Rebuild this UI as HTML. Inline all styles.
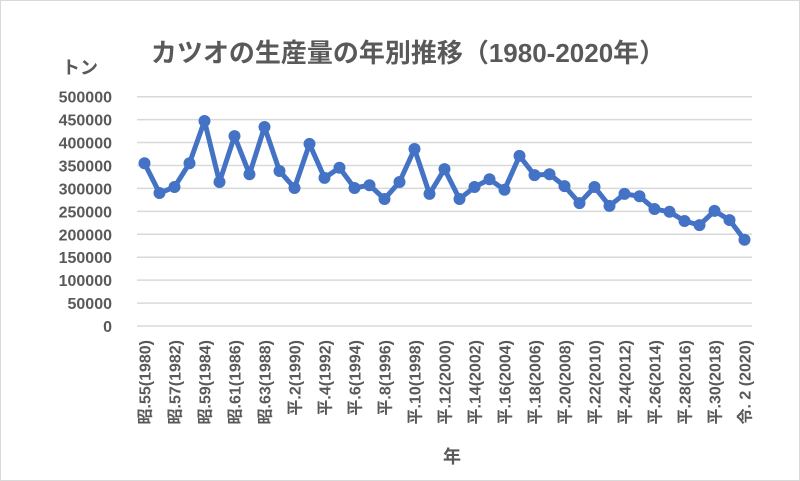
<!DOCTYPE html>
<html><head><meta charset="utf-8"><style>
body{margin:0;background:#fff}
svg{display:block;font-family:"Liberation Sans","Noto Sans CJK JP",sans-serif}
</style></head><body>
<svg width="800" height="481" viewBox="0 0 800 481">
<rect x="0.5" y="0.5" width="799" height="480" fill="#fff" stroke="#d9d9d9"/>
<text x="408" y="62" text-anchor="middle" font-size="26" font-weight="bold" fill="#595959">カツオの生産量の年別推移（1980-2020年）</text>
<text x="62" y="74" font-size="18" font-weight="bold" fill="#595959">トン</text>
<text x="452" y="463" text-anchor="middle" font-size="18" font-weight="bold" fill="#595959">年</text>
<g id="grid"></g><g id="ylab"></g><g id="xlab"></g><g id="series"></g>
</svg>
<script>
const years=[1980,1981,1982,1983,1984,1985,1986,1987,1988,1989,1990,1991,1992,1993,1994,1995,1996,1997,1998,1999,2000,2001,2002,2003,2004,2005,2006,2007,2008,2009,2010,2011,2012,2013,2014,2015,2016,2017,2018,2019,2020];
const values=[355000,290000,303000,355000,447000,314000,414000,331000,434000,338000,301000,397000,323000,345000,301000,307000,277000,314000,386000,288000,342000,277000,303000,320000,297000,371000,329000,331000,305000,268000,303000,262000,288000,283000,255000,249000,229000,220000,251000,231000,188000];
const xLabels=["昭.55(1980)","昭.57(1982)","昭.59(1984)","昭.61(1986)","昭.63(1988)","平.2(1990)","平.4(1992)","平.6(1994)","平.8(1996)","平.10(1998)","平.12(2000)","平.14(2002)","平.16(2004)","平.18(2006)","平.20(2008)","平.22(2010)","平.24(2012)","平.26(2014)","平.28(2016)","平.30(2018)","令. 2 (2020)"];
const yTicks=[0,50000,100000,150000,200000,250000,300000,350000,400000,450000,500000];
const NS="http://www.w3.org/2000/svg";
const L=137,R=752,T=96.7,B=326,YMAX=500000;
const step=(R-L)/years.length;
function x(i){return L+step*(i+0.5);}
function y(v){return B-(v/YMAX)*(B-T);}
function mk(t,a,p){const e=document.createElementNS(NS,t);for(const k in a)e.setAttribute(k,a[k]);p.appendChild(e);return e;}
const g=document.getElementById('grid'),yl=document.getElementById('ylab'),xl=document.getElementById('xlab'),s=document.getElementById('series');
yTicks.forEach(v=>{
 const ln=mk('line',{x1:L,x2:R,y1:y(v),y2:y(v),stroke:'#d9d9d9','stroke-width':1.5},g);
 
 
 const t=mk('text',{x:112,y:y(v)+6,'text-anchor':'end','font-size':16,'font-weight':'bold',fill:'#595959'},yl);
 t.textContent=v;
 
 
});
xLabels.forEach((lab,k)=>{
 const cx=x(k*2)+6;
 const t=mk('text',{x:0,y:0,transform:`translate(${cx},340) rotate(-90)`,'text-anchor':'end','font-size':16,'font-weight':'bold',fill:'#595959'},xl);
 t.textContent=lab;
 
 
});
const pts=values.map((v,i)=>x(i)+','+y(v)).join(' ');
const pl=mk('polyline',{points:pts,fill:'none',stroke:'#4472c4','stroke-width':5,'stroke-linejoin':'round'},s);


values.forEach((v,i)=>{
 const c=mk('circle',{cx:x(i),cy:y(v),r:6,fill:'#4472c4'},s);
 
 
});
</script>
</body></html>
